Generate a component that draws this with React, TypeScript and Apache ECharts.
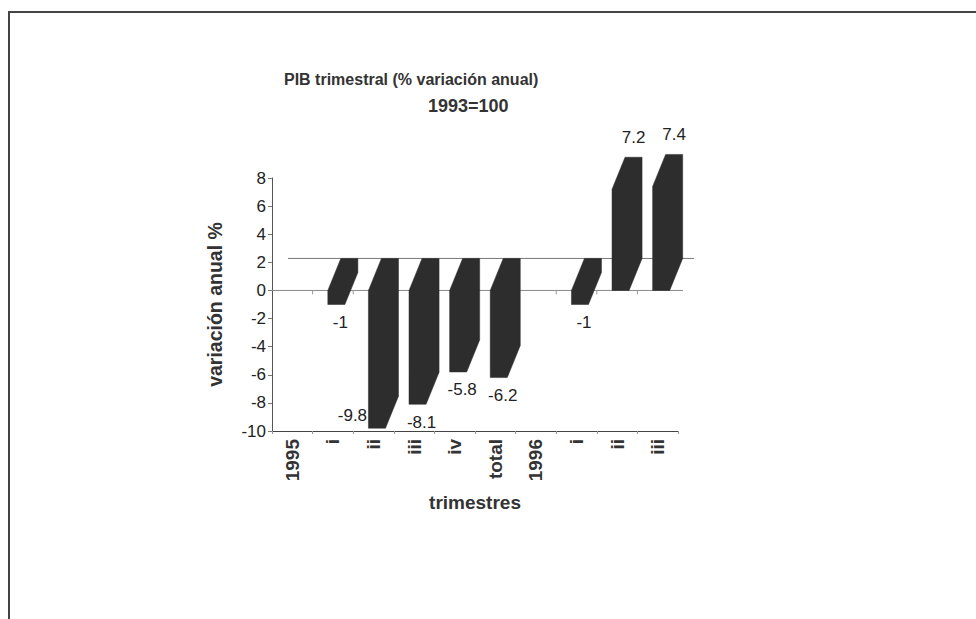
import React, { useEffect, useRef } from "react";
import * as echarts from "echarts";

const categories = ["1995", "i", "ii", "iii", "iv", "total", "1996", "i", "ii", "iii"];
const values: (number | null)[] = [null, -1, -9.8, -8.1, -5.8, -6.2, null, -1, 7.2, 7.4];
const yMin = -10;
const yMax = 8;
const yInterval = 2;

const titleLine1 = "PIB trimestral (% variación anual)";
const titleLine2 = "1993=100";
const yName = "variación anual %";
const xName = "trimestres";

const FONT = "Arial, 'Liberation Sans', sans-serif";
const DEPTH_X = 13;
const DEPTH_Y = 32;
const BAR_COLOR = "#2d2d2d";

export default function App() {
  const ref = useRef<HTMLDivElement>(null);

  useEffect(() => {
    document.body.style.margin = "0";
    const chart = echarts.init(ref.current!, null, { renderer: "svg" });

    const barData = values
      .map((v, i) => (v === null ? null : [i, v]))
      .filter((d) => d !== null);

    const option: any = {
      animation: false,
      backgroundColor: "#ffffff",
      title: [
        {
          text: titleLine1,
          left: 279,
          top: 66,
          textStyle: { fontFamily: FONT, fontSize: 16, fontWeight: "bold", color: "#333" },
        },
        {
          text: titleLine2,
          left: 423,
          top: 92,
          textStyle: { fontFamily: FONT, fontSize: 18, fontWeight: "bold", color: "#333" },
        },
      ],
      grid: { left: 272, top: 178, width: 406, height: 253, containLabel: false },
      xAxis: {
        type: "category",
        data: categories,
        boundaryGap: true,
        name: xName,
        nameLocation: "middle",
        nameGap: 62,
        nameTextStyle: { fontFamily: FONT, fontSize: 19, fontWeight: "bold", color: "#333" },
        axisLine: { onZero: false, lineStyle: { color: "#444", width: 1 } },
        axisTick: { show: true, length: 3, lineStyle: { color: "#999" } },
        axisLabel: {
          rotate: 90,
          interval: 0,
          margin: 8,
          fontFamily: FONT,
          fontSize: 19,
          fontWeight: "bold",
          color: "#333",
        },
        splitLine: { show: false },
      },
      yAxis: {
        type: "value",
        min: yMin,
        max: yMax,
        interval: yInterval,
        name: yName,
        nameLocation: "middle",
        nameGap: 47,
        nameRotate: 90,
        nameTextStyle: { fontFamily: FONT, fontSize: 19.5, fontWeight: "bold", color: "#333" },
        axisLine: { show: true, lineStyle: { color: "#555", width: 1 } },
        axisTick: { show: true, length: 4, lineStyle: { color: "#777" } },
        axisLabel: { fontFamily: FONT, fontSize: 17, color: "#222", margin: 6 },
        splitLine: { show: false },
      },
      series: [
        {
          type: "custom",
          name: "planes",
          data: [[0, 0]],
          silent: true,
          z: 1,
          clip: false,
          renderItem: (params: any, api: any) => {
            const cs = params.coordSys;
            const z = api.coord([0, 0]);
            const band = api.size([1, 0])[0];
            const y0 = z[1];
            const children: any[] = [
              {
                type: "line",
                shape: { x1: cs.x, y1: y0, x2: cs.x + cs.width + 5, y2: y0 },
                style: { stroke: "#888", lineWidth: 1 },
              },
              {
                type: "line",
                shape: { x1: cs.x + 16, y1: y0 - DEPTH_Y, x2: cs.x + cs.width + 16, y2: y0 - DEPTH_Y },
                style: { stroke: "#777", lineWidth: 1 },
              },
            ];
            for (let i = 1; i < categories.length; i++) {
              const tx = cs.x + band * i;
              children.push({
                type: "line",
                shape: { x1: tx, y1: y0, x2: tx, y2: y0 + 4 },
                style: { stroke: "#999", lineWidth: 1 },
              });
            }
            return { type: "group", children };
          },
        },
        {
          type: "custom",
          name: "PIB",
          data: barData,
          z: 2,
          clip: false,
          renderItem: (params: any, api: any) => {
            const cs = params.coordSys;
            const idx = api.value(0);
            const v = api.value(1);
            const c = api.coord([idx, v]);
            const zc = api.coord([idx, 0]);
            const band = api.size([1, 0])[0];
            const w = band * 0.42;
            const cx = c[0] + band * 0.085;
            const x0 = cx - w / 2;
            const x1 = cx + w / 2;
            const yTop = Math.min(c[1], zc[1]);
            const yBot = Math.max(c[1], zc[1]);
            const pts = [
              [x0, yBot],
              [x1, yBot],
              [x1 + DEPTH_X, yBot - DEPTH_Y],
              [x1 + DEPTH_X, yTop - DEPTH_Y],
              [x0 + DEPTH_X, yTop - DEPTH_Y],
              [x0, yTop],
            ];
            const gridBottom = cs.y + cs.height;
            let tx: number;
            let ty: number;
            if (v < 0) {
              ty = yBot + 18;
              tx = cx + 4;
              if (ty > gridBottom - 6) {
                ty = gridBottom - 16;
                tx = x0 - 16;
              }
            } else {
              ty = yTop - DEPTH_Y - 20;
              tx = cx + DEPTH_X;
            }
            return {
              type: "group",
              children: [
                {
                  type: "polygon",
                  shape: { points: pts },
                  style: { fill: BAR_COLOR, stroke: BAR_COLOR, lineWidth: 0.5 },
                },
                {
                  type: "text",
                  x: tx,
                  y: ty,
                  z2: 10,
                  style: {
                    text: String(v),
                    fontFamily: FONT,
                    fontSize: 17,
                    fill: "#222",
                    align: "center",
                    verticalAlign: "middle",
                  },
                },
              ],
            };
          },
        },
      ],
      graphic: [
        {
          type: "line",
          shape: { x1: 8, y1: 12, x2: 976, y2: 12 },
          style: { stroke: "#444", lineWidth: 2 },
        },
        {
          type: "line",
          shape: { x1: 9, y1: 12, x2: 9, y2: 619 },
          style: { stroke: "#444", lineWidth: 2 },
        },
      ],
    };

    chart.setOption(option);
    return () => chart.dispose();
  }, []);

  return <div ref={ref} style={{ width: 976, height: 619 }} />;
}
